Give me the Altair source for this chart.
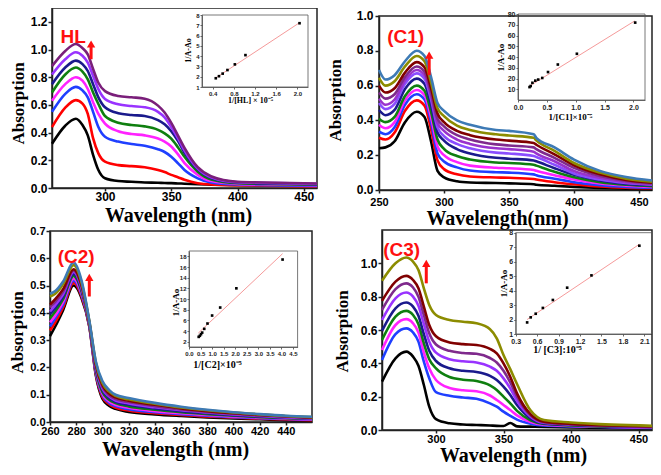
import altair as alt
import pandas as pd

# ---------------- data ----------------
HL_WL = [260, 270, 278, 283, 287, 291, 295, 300, 310, 320, 330, 340, 345, 350, 355, 360, 370, 380, 400, 430, 460]
HL_COLORS = ["#000000", "#ff0000", "#1f3fff", "#ff22ff", "#0f7f0f", "#1a1a8c", "#9933ff", "#7a1f7a"]
HL_ABS = [
    [0.32, 0.45, 0.50, 0.455, 0.38, 0.24, 0.13, 0.07, 0.05, 0.045, 0.04, 0.038, 0.036, 0.035, 0.033, 0.031, 0.027, 0.024, 0.02, 0.017, 0.015],
    [0.44, 0.58, 0.635, 0.61, 0.535, 0.36, 0.25, 0.19, 0.165, 0.158, 0.15, 0.13, 0.115, 0.095, 0.078, 0.06, 0.035, 0.025, 0.02, 0.015, 0.012],
    [0.55, 0.68, 0.73, 0.705, 0.655, 0.55, 0.44, 0.37, 0.335, 0.318, 0.305, 0.28, 0.26, 0.226, 0.18, 0.13, 0.07, 0.04, 0.025, 0.019, 0.015],
    [0.63, 0.75, 0.80, 0.775, 0.715, 0.62, 0.535, 0.465, 0.41, 0.39, 0.38, 0.357, 0.335, 0.30, 0.245, 0.18, 0.095, 0.05, 0.03, 0.024, 0.02],
    [0.69, 0.82, 0.87, 0.84, 0.785, 0.69, 0.607, 0.52, 0.472, 0.455, 0.445, 0.42, 0.395, 0.357, 0.295, 0.225, 0.118, 0.062, 0.035, 0.028, 0.024],
    [0.75, 0.87, 0.92, 0.895, 0.845, 0.75, 0.655, 0.583, 0.54, 0.527, 0.52, 0.49, 0.46, 0.41, 0.34, 0.255, 0.135, 0.072, 0.04, 0.032, 0.027],
    [0.82, 0.93, 0.98, 0.955, 0.905, 0.81, 0.714, 0.643, 0.605, 0.592, 0.583, 0.55, 0.51, 0.44, 0.36, 0.27, 0.14, 0.078, 0.042, 0.035, 0.03],
    [0.88, 0.99, 1.04, 1.01, 0.965, 0.86, 0.76, 0.70, 0.665, 0.655, 0.645, 0.595, 0.545, 0.47, 0.38, 0.29, 0.15, 0.085, 0.045, 0.038, 0.033],
]

C1_WL = [250, 255, 262, 270, 279, 285, 290, 295, 300, 310, 320, 340, 350, 369, 371, 385, 400, 420, 440, 460]
C1_COLORS = ["#000000", "#ff0000", "#1f3fff", "#ff22ff", "#0f7f0f", "#1a1a8c", "#8a4dff",
             "#9932cc", "#7f2a8c", "#800000", "#8c8c00", "#3d7ab5"]
C1_ABS = [
    [0.24, 0.245, 0.28, 0.39, 0.45, 0.42, 0.28, 0.11, 0.073, 0.05, 0.043, 0.04, 0.038, 0.033, 0.03, 0.024, 0.018, 0.012, 0.008, 0.005],
    [0.30, 0.29, 0.33, 0.455, 0.515, 0.485, 0.35, 0.17, 0.12, 0.09, 0.078, 0.072, 0.07, 0.063, 0.06, 0.045, 0.033, 0.02, 0.013, 0.01],
    [0.335, 0.32, 0.36, 0.49, 0.55, 0.52, 0.39, 0.21, 0.164, 0.13, 0.112, 0.102, 0.10, 0.09, 0.085, 0.065, 0.045, 0.028, 0.018, 0.013],
    [0.375, 0.355, 0.39, 0.515, 0.575, 0.545, 0.42, 0.25, 0.20, 0.16, 0.14, 0.128, 0.125, 0.115, 0.11, 0.085, 0.06, 0.037, 0.025, 0.018],
    [0.41, 0.39, 0.42, 0.54, 0.60, 0.57, 0.45, 0.29, 0.237, 0.195, 0.175, 0.158, 0.155, 0.145, 0.14, 0.105, 0.073, 0.045, 0.03, 0.022],
    [0.46, 0.43, 0.46, 0.58, 0.64, 0.61, 0.49, 0.33, 0.284, 0.235, 0.21, 0.185, 0.18, 0.17, 0.165, 0.125, 0.087, 0.055, 0.035, 0.027],
    [0.50, 0.465, 0.495, 0.61, 0.67, 0.64, 0.52, 0.36, 0.31, 0.265, 0.24, 0.215, 0.21, 0.195, 0.19, 0.145, 0.095, 0.06, 0.04, 0.03],
    [0.525, 0.49, 0.52, 0.63, 0.69, 0.66, 0.54, 0.385, 0.34, 0.29, 0.265, 0.24, 0.235, 0.22, 0.21, 0.165, 0.109, 0.07, 0.045, 0.033],
    [0.56, 0.525, 0.55, 0.65, 0.71, 0.68, 0.56, 0.41, 0.366, 0.315, 0.29, 0.262, 0.256, 0.245, 0.235, 0.185, 0.127, 0.08, 0.052, 0.038],
    [0.60, 0.56, 0.585, 0.675, 0.735, 0.705, 0.585, 0.44, 0.39, 0.34, 0.315, 0.29, 0.284, 0.27, 0.26, 0.205, 0.142, 0.09, 0.058, 0.042],
    [0.645, 0.60, 0.625, 0.71, 0.77, 0.74, 0.62, 0.47, 0.425, 0.37, 0.345, 0.32, 0.313, 0.30, 0.285, 0.225, 0.155, 0.10, 0.065, 0.048],
    [0.69, 0.635, 0.66, 0.74, 0.80, 0.77, 0.65, 0.50, 0.455, 0.40, 0.375, 0.345, 0.34, 0.32, 0.30, 0.245, 0.175, 0.11, 0.075, 0.055],
]

C2_WL = [260, 264, 270, 278, 284, 290, 295, 300, 305, 310, 320, 340, 360, 380, 400, 420, 440, 460]
C2_COLORS = ["#000000", "#ff0000", "#1f3fff", "#ff22ff", "#0f7f0f", "#1a1a8c", "#9933ff",
             "#7f2a8c", "#800000", "#8c8c00", "#3d7ab5"]
C2_ABS = [
    [0.315, 0.35, 0.41, 0.500, 0.455, 0.35, 0.17, 0.085, 0.06, 0.048, 0.037, 0.028, 0.022, 0.017, 0.013, 0.01, 0.007, 0.005],
    [0.335, 0.365, 0.42, 0.510, 0.462, 0.352, 0.175, 0.092, 0.066, 0.053, 0.042, 0.032, 0.026, 0.02, 0.016, 0.012, 0.009, 0.007],
    [0.35, 0.38, 0.43, 0.518, 0.468, 0.354, 0.18, 0.098, 0.071, 0.058, 0.047, 0.036, 0.029, 0.023, 0.018, 0.014, 0.011, 0.008],
    [0.365, 0.39, 0.44, 0.525, 0.473, 0.356, 0.185, 0.104, 0.076, 0.063, 0.052, 0.04, 0.032, 0.026, 0.02, 0.016, 0.012, 0.009],
    [0.38, 0.405, 0.45, 0.535, 0.48, 0.358, 0.19, 0.11, 0.082, 0.069, 0.057, 0.045, 0.036, 0.029, 0.023, 0.018, 0.014, 0.011],
    [0.395, 0.418, 0.46, 0.543, 0.486, 0.36, 0.195, 0.117, 0.088, 0.074, 0.063, 0.05, 0.04, 0.032, 0.025, 0.02, 0.016, 0.012],
    [0.405, 0.428, 0.468, 0.55, 0.492, 0.362, 0.2, 0.123, 0.094, 0.079, 0.068, 0.054, 0.043, 0.035, 0.028, 0.022, 0.017, 0.013],
    [0.42, 0.44, 0.478, 0.555, 0.497, 0.364, 0.205, 0.129, 0.099, 0.084, 0.073, 0.058, 0.046, 0.037, 0.03, 0.024, 0.019, 0.015],
    [0.43, 0.45, 0.487, 0.56, 0.503, 0.366, 0.21, 0.136, 0.105, 0.09, 0.078, 0.063, 0.05, 0.04, 0.032, 0.026, 0.021, 0.016],
    [0.46, 0.47, 0.505, 0.575, 0.513, 0.37, 0.218, 0.143, 0.112, 0.096, 0.083, 0.067, 0.053, 0.043, 0.035, 0.028, 0.022, 0.018],
    [0.47, 0.48, 0.515, 0.585, 0.52, 0.372, 0.222, 0.15, 0.118, 0.1, 0.088, 0.07, 0.056, 0.045, 0.036, 0.029, 0.023, 0.019],
]

C3_WL = [260, 270, 278, 283, 287, 291, 295, 300, 310, 320, 330, 340, 345, 350, 355, 360, 370, 380, 400, 430, 460]
C3_COLORS = ["#000000", "#1f3fff", "#ff22ff", "#0f7f0f", "#1a1a8c", "#9933ff", "#7f2a8c", "#800000", "#8c8c00"]
C3_ABS = [
    [0.29, 0.43, 0.47, 0.44, 0.385, 0.27, 0.14, 0.065, 0.04, 0.033, 0.03, 0.027, 0.025, 0.024, 0.042, 0.022, 0.02, 0.018, 0.015, 0.012, 0.01],
    [0.42, 0.575, 0.61, 0.585, 0.53, 0.41, 0.31, 0.227, 0.205, 0.195, 0.187, 0.16, 0.14, 0.11, 0.085, 0.062, 0.038, 0.027, 0.022, 0.017, 0.013],
    [0.48, 0.63, 0.665, 0.64, 0.585, 0.465, 0.37, 0.30, 0.252, 0.238, 0.232, 0.207, 0.18, 0.15, 0.12, 0.088, 0.048, 0.032, 0.025, 0.019, 0.016],
    [0.54, 0.68, 0.715, 0.69, 0.635, 0.52, 0.425, 0.37, 0.318, 0.302, 0.294, 0.268, 0.24, 0.2, 0.16, 0.115, 0.058, 0.036, 0.028, 0.021, 0.018],
    [0.595, 0.73, 0.765, 0.74, 0.685, 0.575, 0.475, 0.414, 0.37, 0.355, 0.348, 0.325, 0.3, 0.26, 0.21, 0.15, 0.07, 0.04, 0.031, 0.023, 0.019],
    [0.66, 0.79, 0.825, 0.80, 0.745, 0.635, 0.53, 0.464, 0.425, 0.412, 0.405, 0.38, 0.355, 0.31, 0.25, 0.175, 0.08, 0.043, 0.033, 0.025, 0.02],
    [0.72, 0.845, 0.88, 0.855, 0.80, 0.69, 0.58, 0.513, 0.475, 0.462, 0.457, 0.432, 0.405, 0.355, 0.285, 0.2, 0.088, 0.047, 0.035, 0.026, 0.021],
    [0.775, 0.89, 0.925, 0.90, 0.85, 0.74, 0.63, 0.562, 0.525, 0.515, 0.51, 0.487, 0.46, 0.40, 0.32, 0.22, 0.095, 0.05, 0.037, 0.027, 0.022],
    [0.895, 1.0, 1.035, 1.01, 0.96, 0.85, 0.75, 0.69, 0.66, 0.65, 0.64, 0.605, 0.55, 0.45, 0.365, 0.276, 0.118, 0.06, 0.045, 0.032, 0.025],
]

# Benesi-Hildebrand insets
HL_INV = [0.46, 0.52, 0.59, 0.68, 0.82, 1.02, 2.04]
HL_INVA = [1.85, 2.05, 2.3, 2.65, 3.2, 4.1, 7.2]
HL_FIT_X = [0.45, 2.04]
HL_FIT_Y = [1.85, 7.25]
C1_INV = [0.2, 0.22, 0.25, 0.3, 0.35, 0.42, 0.52, 0.69, 1.02, 2.03]
C1_INVA = [12, 13, 16, 18, 19, 20.5, 26, 33, 43, 72]
C1_FIT_X = [0.2, 2.02]
C1_FIT_Y = [13, 73.5]
C2_INV = [0.42, 0.47, 0.52, 0.57, 0.66, 0.8, 1.0, 1.35, 2.05, 4.05]
C2_INVA = [2.9, 3.1, 3.4, 3.7, 4.4, 5.4, 6.9, 8.4, 12, 17.4]
C2_FIT_X = [0.4, 4.05]
C2_FIT_Y = [3.6, 18.5]
C3_INV = [0.46, 0.51, 0.58, 0.68, 0.82, 1.02, 1.36, 2.03]
C3_INVA = [1.8, 2.15, 2.4, 2.8, 3.35, 4.2, 5.05, 7.1]
C3_FIT_X = [0.46, 2.03]
C3_FIT_Y = [2.0, 7.2]

W, H = 645, 459
SANS = "Liberation Sans"
SERIF = "Liberation Serif"


def S(dom, rng):
    return alt.Scale(domain=dom, range=rng, nice=False, zero=False)


def main_x_axis(pix, values, title, tx, lsize=12, ty=33, tsize=20, lpad=0):
    return alt.Axis(orient="bottom", offset=pix - H, values=values, format="d", title=title,
                    titleX=tx, titleY=ty, titleBaseline="alphabetic", titleAlign="center",
                    titleFont=SERIF, titleFontSize=tsize, titleFontWeight="bold", titleColor="black",
                    labelFont=SANS, labelFontSize=lsize, labelFontWeight="bold", labelColor="black",
                    labelPadding=lpad, tickSize=3, tickWidth=1.5, tickColor="#222",
                    domainColor="#222", domainWidth=1.5, grid=False, labelOverlap=False, labelFlush=False)


def main_y_axis(pix, values, fmt, tx, ty, lsize=12, lpad=1, loff=0):
    return alt.Axis(orient="left", offset=-pix, values=values, format=fmt, title="Absorption",
                    titleX=tx, titleY=ty, titleBaseline="alphabetic", titleAlign="center", titleAngle=270,
                    titleFont=SERIF, titleFontSize=17, titleFontWeight="bold", titleColor="black",
                    labelFont=SANS, labelFontSize=lsize, labelFontWeight="bold", labelColor="black",
                    labelPadding=lpad, labelOffset=loff, tickSize=4, tickWidth=1.5, tickColor="#222",
                    domainColor="#222", domainWidth=1.5, grid=False, labelOverlap=False, labelFlush=False)


def inset_x_axis(pix, values, title, tx, ty, lsize, tsize):
    return alt.Axis(orient="bottom", offset=pix - H, values=values, format=".1f", title=title,
                    titleX=tx, titleY=ty, titleBaseline="alphabetic", titleAlign="center",
                    titleFont=SERIF, titleFontSize=tsize, titleFontWeight="bold", titleColor="black",
                    labelFont=SANS, labelFontSize=lsize, labelFontWeight="bold", labelColor="#222",
                    labelPadding=1, tickSize=2, tickWidth=0.8, tickColor="#444",
                    domainColor="#444", domainWidth=0.8, grid=False, labelOverlap=False, labelFlush=False)


def inset_y_axis(pix, values, tx, ty, lsize, tsize):
    return alt.Axis(orient="left", offset=-pix, values=values, format="d", title="1/A-Ao",
                    titleX=tx, titleY=ty, titleBaseline="alphabetic", titleAlign="center", titleAngle=270,
                    titleFont=SERIF, titleFontSize=tsize, titleFontWeight="bold", titleColor="black",
                    labelFont=SANS, labelFontSize=lsize, labelFontWeight="bold", labelColor="#222",
                    labelPadding=1, tickSize=2, tickWidth=0.8, tickColor="#444",
                    domainColor="#444", domainWidth=0.8, grid=False, labelOverlap=False, labelFlush=False)


def spectra(wl, curves, colors, xs, ys, xa, ya):
    rows = []
    for i, (c, vals) in enumerate(zip(colors, curves)):
        for w, v in zip(wl, vals):
            rows.append({"wl": w, "A": v, "s": i, "c": c})
    return alt.Chart(pd.DataFrame(rows)).mark_line(interpolate="monotone", strokeWidth=2.6).encode(
        x=alt.X("wl:Q", scale=xs, axis=xa),
        y=alt.Y("A:Q", scale=ys, axis=ya),
        color=alt.Color("c:N", scale=None),
        detail="s:N",
        order="wl:Q",
    )


def frame(xd, yd, xs, ys, color, width):
    df = pd.DataFrame({"x0": [xd[0]], "x1": [xd[1]], "y0": [yd[0]], "y1": [yd[1]]})
    return alt.Chart(df).mark_rect(fillOpacity=0, stroke=color, strokeWidth=width).encode(
        x=alt.X("x0:Q", scale=xs, axis=None), x2="x1",
        y=alt.Y("y0:Q", scale=ys, axis=None), y2="y1")


def label(text, x, y, xs, ys):
    df = pd.DataFrame({"x": [x], "y": [y], "t": [text]})
    return alt.Chart(df).mark_text(font=SANS, fontSize=19, fontWeight="bold", color="#ff1010").encode(
        x=alt.X("x:Q", scale=xs, axis=None), y=alt.Y("y:Q", scale=ys, axis=None), text="t:N")


def arrow(x, y0, y1, xs, ys):
    df = pd.DataFrame({"x": [x], "y0": [y0], "y1": [y1]})
    shaft = alt.Chart(df).mark_rule(color="#ff1010", strokeWidth=3).encode(
        x=alt.X("x:Q", scale=xs, axis=None), y=alt.Y("y0:Q", scale=ys, axis=None), y2="y1")
    head = alt.Chart(df).mark_point(shape="triangle-up", filled=True, size=70, color="#ff1010", opacity=1).encode(
        x=alt.X("x:Q", scale=xs, axis=None), y=alt.Y("y1:Q", scale=ys, axis=None))
    return [shaft, head]


def inset(inv, inva, fx, fy, xs, ys, xa, ya, xd, yd):
    pts = pd.DataFrame({"u": inv, "v": inva})
    fit = pd.DataFrame({"u": fx, "v": fy})
    line = alt.Chart(fit).mark_line(color="#f59a9a", strokeWidth=1).encode(
        x=alt.X("u:Q", scale=xs, axis=xa), y=alt.Y("v:Q", scale=ys, axis=ya))
    dots = alt.Chart(pts).mark_square(size=7, color="black", opacity=1).encode(
        x=alt.X("u:Q", scale=xs, axis=None), y=alt.Y("v:Q", scale=ys, axis=None))
    return [frame(xd, yd, xs, ys, "#555", 0.8), line, dots]


layers = []

# ---- Panel HL ----
xs = S([260, 460], [44, 309]); ys = S([0, 1.3], [180, 0])
layers += [frame([260, 460], [0, 1.3], xs, ys, "#222", 1.5),
           spectra(HL_WL, HL_ABS, HL_COLORS, xs, ys,
                   main_x_axis(180, [300, 350, 400, 450], "Wavelength (nm)", 170),
                   main_y_axis(44, [0, 0.2, 0.4, 0.6, 0.8, 1.0, 1.2], ".1f", -29, 95)),
           label("HL", 276, 1.09, xs, ys)]
layers += arrow(289.5, 0.93, 1.04, xs, ys)
ixs = S([0.2, 2.2], [194, 300]); iys = S([1, 8], [79, 7])
layers += inset(HL_INV, HL_INVA, HL_FIT_X, HL_FIT_Y, ixs, iys,
                inset_x_axis(79, [0.4, 0.8, 1.2, 1.6, 2.0], "1/[HL] × 10⁻⁵", 242, 15, 6, 8),
                inset_y_axis(194, [1, 2, 3, 4, 5, 6, 7, 8], -12, 42, 6, 8),
                [0.2, 2.2], [1, 8])

# ---- Panel C1 ----
xs = S([250, 460], [371, 644]); ys = S([0, 1.0], [182, 8])
layers += [frame([250, 460], [0, 1.0], xs, ys, "#222", 1.5),
           spectra(C1_WL, C1_ABS, C1_COLORS, xs, ys,
                   main_x_axis(182, [250, 300, 350, 400, 450], "Wavelength(nm)", 489, lsize=11, lpad=3, ty=34),
                   main_y_axis(371, [0, 0.2, 0.4, 0.6, 0.8, 1.0], ".1f", -39, 92, lpad=2, loff=-1)),
           label("(C1)", 270.5, 0.88, xs, ys)]
layers += arrow(288.6, 0.66, 0.775, xs, ys)
ixs = S([0, 2.2], [510, 637]); iys = S([0, 80], [92, 6])
layers += inset(C1_INV, C1_INVA, C1_FIT_X, C1_FIT_Y, ixs, iys,
                inset_x_axis(92, [0.0, 0.5, 1.0, 1.5, 2.0], "1/[C1]×10⁻⁵", 562, 19, 7, 9),
                inset_y_axis(510, [10, 20, 30, 40, 50, 60, 70, 80], -15, 49, 7, 9),
                [0, 2.2], [0, 80])

# ---- Panel C2 ----
xs = S([260, 460], [42, 304]); ys = S([0, 0.7], [414, 223])
layers += [frame([260, 460], [0, 0.7], xs, ys, "#222", 1.5),
           spectra(C2_WL, C2_ABS, C2_COLORS, xs, ys,
                   main_x_axis(414, [260, 280, 300, 320, 340, 360, 380, 400, 420, 440], "Wavelength (nm)", 167,
                               lsize=11),
                   main_y_axis(42, [0, 0.1, 0.2, 0.3, 0.4, 0.5, 0.6, 0.7], ".1f", -28, 324, lsize=11)),
           label("(C2)", 280, 0.604, xs, ys)]
layers += arrow(290, 0.46, 0.53, xs, ys)
ixs = S([0, 4.7], [181, 289.6]); iys = S([1, 19], [339, 243])
layers += inset(C2_INV, C2_INVA, C2_FIT_X, C2_FIT_Y, ixs, iys,
                inset_x_axis(339, [0.0, 0.5, 1.0, 1.5, 2.0, 2.5, 3.0, 3.5, 4.0, 4.5], "1/[C2]×10⁻⁵", 209, 20, 6, 10),
                inset_y_axis(181, [2, 4, 6, 8, 10, 12, 14, 16, 18], -11, 294, 6, 9),
                [0, 4.7], [1, 19])

# ---- Panel C3 ----
xs = S([260, 460], [374, 644]); ys = S([0, 1.2], [422, 222])
layers += [frame([260, 460], [0, 1.2], xs, ys, "#222", 1.5),
           spectra(C3_WL, C3_ABS, C3_COLORS, xs, ys,
                   main_x_axis(422, [300, 350, 400, 450], "Wavelength (nm)", 505, lsize=11, ty=31),
                   main_y_axis(374, [0, 0.2, 0.4, 0.6, 0.8, 1.0], ".1f", -35, 323)),
           label("(C3)", 274.6, 1.083, xs, ys)]
layers += arrow(292.8, 0.88, 1.0, xs, ys)
ixs = S([0.3, 2.2], [507.7, 643.5]); iys = S([1, 8], [326, 224.7])
layers += inset(C3_INV, C3_INVA, C3_FIT_X, C3_FIT_Y, ixs, iys,
                inset_x_axis(326, [0.3, 0.6, 0.9, 1.2, 1.5, 1.8, 2.1], "1/ [C3]:10⁻⁵", 549, 18, 7, 10),
                inset_y_axis(507.7, [1, 2, 3, 4, 5, 6, 7, 8], -9, 275, 7, 9),
                [0.3, 2.2], [1, 8])

chart = alt.layer(*layers).resolve_scale(x="independent", y="independent").properties(
    width=W, height=H, autosize=alt.AutoSizeParams(type="none"), padding=0,
    background="white",
).configure_view(stroke=None)

chart.save("out.html", embed_options={"renderer": "svg", "actions": False})
